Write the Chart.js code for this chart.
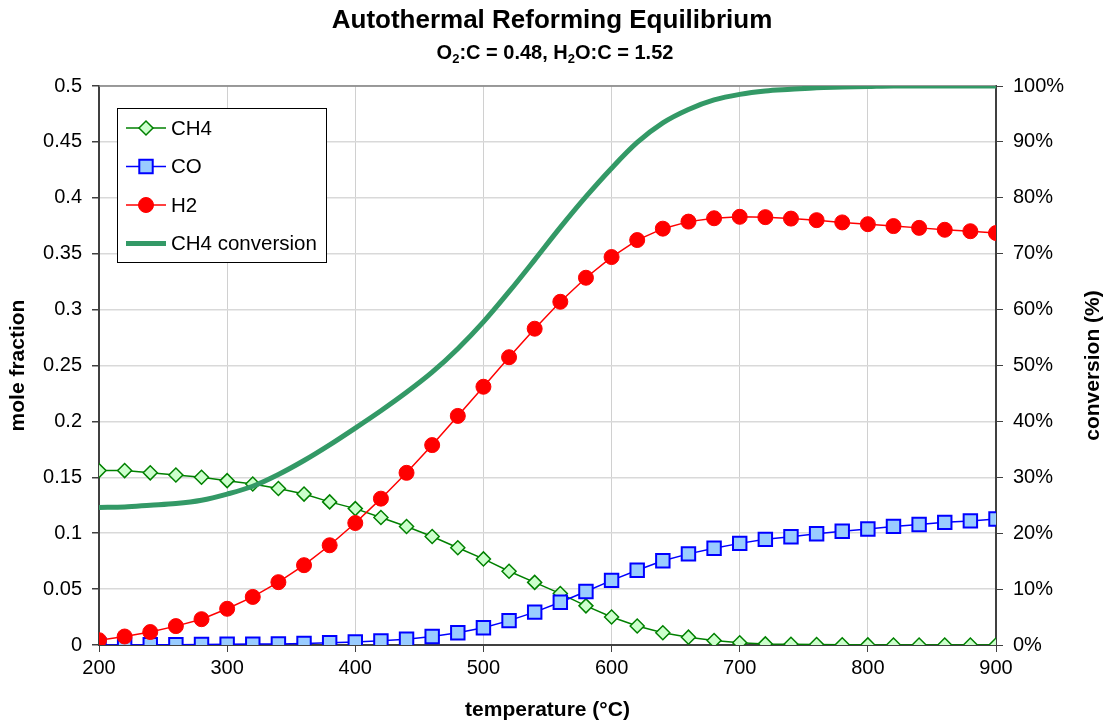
<!DOCTYPE html>
<html>
<head>
<meta charset="utf-8">
<script src="https://cdn.jsdelivr.net/npm/chart.js"></script>
<style>
  body { margin: 0; background: #fff; }
  #wrap { width: 1104px; height: 724px; }
</style>
</head>
<body>
<div id="wrap"><canvas id="chart" width="1104" height="724"></canvas></div>
<script>
// temperatures (°C)
const temperatures = [200, 220, 240, 260, 280, 300, 320, 340, 360, 380, 400, 420,
    440, 460, 480, 500, 520, 540, 560, 580, 600, 620, 640, 660,
    680, 700, 720, 740, 760, 780, 800, 820, 840, 860, 880, 900];

// mole fractions
const ch4 = [0.156, 0.156, 0.154, 0.152, 0.150, 0.147, 0.144, 0.140, 0.135, 0.128, 0.122, 0.114,
    0.106, 0.097, 0.087, 0.077, 0.066, 0.056, 0.046, 0.035, 0.025, 0.017, 0.011, 0.007,
    0.004, 0.002, 0.001, 0.0007, 0.0004, 0.0002, 0.0001, 0, 0, 0, 0, 0];
const co = [0.0001, 0.0001, 0.0002, 0.0003, 0.0004, 0.0006, 0.0008, 0.001, 0.0014, 0.002, 0.0027, 0.0037,
    0.0052, 0.0076, 0.0109, 0.0155, 0.0218, 0.0294, 0.0383, 0.0479, 0.0578, 0.0668, 0.0753, 0.0815,
    0.0866, 0.0909, 0.0945, 0.0968, 0.0995, 0.1018, 0.1038, 0.1061, 0.1077, 0.1097, 0.111, 0.1127];
const h2 = [0.0043, 0.0076, 0.0116, 0.0169, 0.0231, 0.0324, 0.043, 0.0562, 0.0714, 0.0892, 0.1091, 0.1309,
    0.154, 0.1788, 0.2049, 0.231, 0.2574, 0.2829, 0.307, 0.3285, 0.347, 0.3622, 0.3724, 0.3787,
    0.3817, 0.383, 0.3827, 0.3814, 0.380, 0.378, 0.3764, 0.3747, 0.3731, 0.3714, 0.3701, 0.3685];

// CH4 conversion (%)
const conversion = [24.6, 24.7, 25.0, 25.3, 25.9, 27.0, 28.4, 30.5, 33.0, 35.8, 38.8, 41.9,
    45.2, 48.8, 53.0, 57.8, 63.2, 68.9, 74.7, 80.2, 85.3, 89.9, 93.4, 95.8,
    97.5, 98.5, 99.1, 99.4, 99.7, 99.8, 99.9, 100, 100, 100, 100, 100];

// tick labels
const moleTicks = ["0", "0.05", "0.1", "0.15", "0.2", "0.25", "0.3", "0.35", "0.4", "0.45", "0.5"];
const convTicks = ["0%", "10%", "20%", "30%", "40%", "50%", "60%", "70%", "80%", "90%", "100%"];

// subtitle pieces: [text, isSubscript]
const subtitleParts = [["O", false], ["2", true], [":C = 0.48, H", false], ["2", true], ["O:C = 1.52", false]];

const FONT = "Liberation Sans, Arial, sans-serif";
const toXY = ys => temperatures.map((t, i) => ({ x: t, y: ys[i] }));

function drawMarker(ctx, ds, x, y) {
    const r = ds.pointRadius;
    ctx.save();
    ctx.fillStyle = ds.pointBackgroundColor;
    ctx.strokeStyle = ds.pointBorderColor;
    ctx.lineWidth = ds.pointBorderWidth;
    ctx.beginPath();
    if (ds.pointStyle === "circle") {
        ctx.arc(x, y, r, 0, Math.PI * 2);
    } else if (ds.pointStyle === "rect") {
        const s = r * Math.SQRT1_2;
        ctx.rect(x - s, y - s, 2 * s, 2 * s);
    } else {
        ctx.moveTo(x - r, y);
        ctx.lineTo(x, y - r);
        ctx.lineTo(x + r, y);
        ctx.lineTo(x, y + r);
        ctx.closePath();
    }
    ctx.fill();
    ctx.stroke();
    ctx.restore();
}

// legend box inside the plot, like the original
const boxLegend = {
    id: "boxLegend",
    afterDraw(chart) {
        const ctx = chart.ctx;
        const x0 = chart.chartArea.left + 18, y0 = chart.chartArea.top + 22;
        const w = 209, h = 154, rowH = 38.5;
        ctx.save();
        ctx.fillStyle = "#fff";
        ctx.fillRect(x0, y0, w, h);
        ctx.strokeStyle = "#000";
        ctx.lineWidth = 1;
        ctx.strokeRect(x0 + 0.5, y0 + 0.5, w, h);
        ctx.font = "20.5px " + FONT;
        ctx.textBaseline = "middle";
        chart.data.datasets.forEach((ds, i) => {
            const y = y0 + 20 + i * rowH;
            ctx.strokeStyle = ds.borderColor;
            ctx.lineWidth = ds.borderWidth;
            ctx.lineCap = "butt";
            ctx.beginPath();
            ctx.moveTo(x0 + 9, y);
            ctx.lineTo(x0 + 49, y);
            ctx.stroke();
            if (ds.pointRadius > 0) drawMarker(ctx, ds, x0 + 29, y);
            ctx.fillStyle = "#000";
            ctx.fillText(ds.label, x0 + 54, y + 1);
        });
        ctx.restore();
    }
};

// top frame line, subtitle with subscripts, right axis title (reads bottom to top)
const frame = {
    id: "frame",
    beforeDatasetsDraw(chart) {
        const { ctx, chartArea } = chart;
        ctx.save();
        ctx.strokeStyle = "#808080";
        ctx.lineWidth = 1.5;
        ctx.beginPath();
        ctx.moveTo(chartArea.left, chartArea.top);
        ctx.lineTo(chartArea.right, chartArea.top);
        ctx.stroke();
        ctx.restore();
    },
    afterDraw(chart) {
        const { ctx, chartArea } = chart;
        ctx.save();
        ctx.fillStyle = "#000";
        ctx.textBaseline = "alphabetic";
        const big = "bold 20px " + FONT, small = "bold 13px " + FONT;
        let total = 0;
        subtitleParts.forEach(([t, sub]) => {
            ctx.font = sub ? small : big;
            total += ctx.measureText(t).width;
        });
        let x = 555 - total / 2;
        subtitleParts.forEach(([t, sub]) => {
            ctx.font = sub ? small : big;
            ctx.fillText(t, x, sub ? 63 : 59);
            x += ctx.measureText(t).width;
        });
        ctx.translate(1093, (chartArea.top + chartArea.bottom) / 2);
        ctx.rotate(-Math.PI / 2);
        ctx.font = "bold 21px " + FONT;
        ctx.textAlign = "center";
        ctx.textBaseline = "middle";
        ctx.fillText("conversion (%)", 0, 0);
        ctx.restore();
    }
};

new Chart(document.getElementById("chart"), {
    type: "line",
    data: {
        datasets: [
            {
                label: "CH4",
                data: toXY(ch4),
                yAxisID: "y",
                borderColor: "#008000",
                borderWidth: 1.5,
                pointStyle: "rectRot",
                pointRadius: 7,
                pointBackgroundColor: "#ccffcc",
                pointBorderColor: "#008000",
                pointBorderWidth: 1.5,
                order: 3
            },
            {
                label: "CO",
                data: toXY(co),
                yAxisID: "y",
                borderColor: "#0000ff",
                borderWidth: 1.5,
                pointStyle: "rect",
                pointRadius: 9.5,
                pointBackgroundColor: "#99ccff",
                pointBorderColor: "#0000ff",
                pointBorderWidth: 2,
                order: 2
            },
            {
                label: "H2",
                data: toXY(h2),
                yAxisID: "y",
                borderColor: "#ff0000",
                borderWidth: 1.5,
                pointStyle: "circle",
                pointRadius: 7.5,
                pointBackgroundColor: "#ff0000",
                pointBorderColor: "#ff0000",
                pointBorderWidth: 1,
                order: 1
            },
            {
                label: "CH4 conversion",
                data: toXY(conversion),
                yAxisID: "y2",
                borderColor: "#339966",
                borderWidth: 5,
                pointRadius: 0,
                cubicInterpolationMode: "monotone",
                order: 0
            }
        ]
    },
    options: {
        responsive: false,
        animation: false,
        events: [],
        layout: { padding: 0 },
        plugins: {
            legend: { display: false },
            tooltip: { enabled: false },
            title: {
                display: true,
                text: "Autothermal Reforming Equilibrium",
                color: "#000",
                font: { family: FONT, size: 26, weight: "bold" },
                padding: { top: 5, bottom: 49.8 }
            }
        },
        scales: {
            x: {
                type: "linear",
                min: 200,
                max: 900,
                ticks: { stepSize: 100, color: "#000", font: { family: FONT, size: 20 }, padding: 4 },
                grid: { color: "#d0d0d0", lineWidth: 1, tickLength: 7, tickColor: "#404040" },
                border: { color: "#404040", width: 2 },
                title: {
                    display: true,
                    text: "temperature (°C)",
                    color: "#000",
                    font: { family: FONT, size: 21, weight: "bold" },
                    padding: { top: 0, bottom: 1 }
                },
                afterFit(scale) { scale.height = 79; }
            },
            y: {
                position: "left",
                min: 0,
                max: 0.5,
                ticks: {
                    stepSize: 0.05,
                    color: "#000",
                    font: { family: FONT, size: 20 },
                    padding: 10,
                    callback: (v, i) => moleTicks[i]
                },
                grid: { color: "#d9d9d9", lineWidth: 1.5, tickLength: 7, tickColor: "#404040" },
                border: { color: "#404040", width: 2 },
                title: {
                    display: true,
                    text: "mole fraction",
                    color: "#000",
                    font: { family: FONT, size: 21, weight: "bold" },
                    padding: { top: 6, bottom: 0 }
                },
                afterFit(scale) { scale.width = 99; }
            },
            y2: {
                position: "right",
                min: 0,
                max: 100,
                ticks: {
                    stepSize: 10,
                    color: "#000",
                    font: { family: FONT, size: 20 },
                    padding: 10,
                    callback: (v, i) => convTicks[i]
                },
                grid: { drawOnChartArea: false, tickLength: 7, tickColor: "#404040" },
                border: { color: "#404040", width: 2 },
                afterFit(scale) { scale.width = 108; }
            }
        }
    },
    plugins: [boxLegend, frame]
});
</script>
</body>
</html>
